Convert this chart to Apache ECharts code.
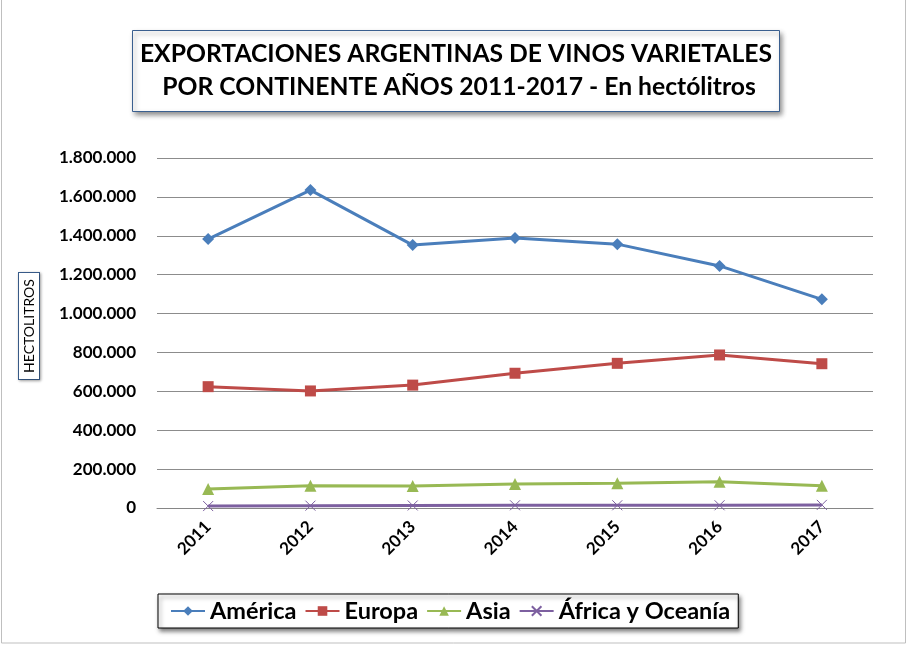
<!DOCTYPE html>
<html>
<head>
<meta charset="utf-8">
<script src="https://cdn.jsdelivr.net/npm/echarts@6/dist/echarts.min.js"></script>
<style>
html,body{margin:0;padding:0;background:#fff;}
#chart{width:908px;height:646px;}
</style>
</head>
<body>
<div id="chart"></div>
<script>
// datos (hectolitros)
var anios = ['2011', '2012', '2013', '2014', '2015', '2016', '2017'];
var america = [1383000, 1635000, 1352000, 1389000, 1357000, 1245000, 1073000];
var europa = [624000, 602000, 632000, 693000, 744000, 787000, 742000];
var asia = [98000, 115000, 113000, 123000, 127000, 135000, 115000];
var africaOceania = [10000, 12000, 13000, 14000, 14000, 14000, 16000];
var ejeMax = 1800000;
var ejeIntervalo = 200000;

function miles(v){
	return String(v).replace(/\B(?=(\d{3})+(?!\d))/g, '.');
}

var chart = echarts.init(document.getElementById('chart'));
var fuente = 'Lato, "Open Sans", sans-serif';

option = {
	backgroundColor: '#fff',
	animation: false,
	title: {
		text: 'EXPORTACIONES ARGENTINAS DE VINOS VARIETALES\n POR CONTINENTE AÑOS 2011-2017 - En hectólitros',
		left: 448,
		top: 30,
		textAlign: 'center',
		padding: [8, 8, 8, 8],
		borderColor: '#3a5f8f',
		borderWidth: 1,
		backgroundColor: '#fff',
		shadowColor: 'rgba(0,0,0,0.45)',
		shadowBlur: 5,
		shadowOffsetX: 2,
		shadowOffsetY: 3,
		textStyle: {
			fontFamily: fuente,
			fontWeight: 'bold',
			fontSize: 24.7,
			lineHeight: 33,
			color: '#000'
		}
	},
	legend: {
		bottom: 18,
		left: 158,
		itemWidth: 34,
		itemHeight: 12,
		itemGap: 8,
		padding: [5, 8, 5, 12],
		borderColor: '#000',
		borderWidth: 1,
		backgroundColor: '#fff',
		shadowColor: 'rgba(0,0,0,0.5)',
		shadowBlur: 4,
		shadowOffsetX: 2,
		shadowOffsetY: 3,
		textStyle: {
			fontFamily: fuente,
			fontWeight: 'bold',
			fontSize: 23.5,
			color: '#000'
		},
		data: ['América', 'Europa', 'Asia', 'África y Oceanía']
	},
	grid: {
		left: 157,
		right: 35,
		top: 158,
		bottom: 138
	},
	xAxis: {
		type: 'category',
		data: anios,
		boundaryGap: true,
		axisLine: {lineStyle: {color: '#868686'}},
		axisTick: {show: false},
		axisLabel: {
			rotate: 45,
			margin: 16,
			fontFamily: fuente,
			fontWeight: 'bold',
			fontSize: 17,
			color: '#000'
		}
	},
	yAxis: {
		type: 'value',
		min: 0,
		max: ejeMax,
		interval: ejeIntervalo,
		axisLine: {show: false},
		axisTick: {show: false},
		splitLine: {lineStyle: {color: '#8c8c8c', width: 1}},
		axisLabel: {
			margin: 21,
			fontFamily: fuente,
			fontWeight: 'bold',
			fontSize: 17,
			color: '#000',
			formatter: function(v){ return miles(v); }
		}
	},
	graphic: [
		{
			type: 'rect',
			shape: {x: 1.5, y: -2, width: 904, height: 645},
			style: {fill: 'none', stroke: '#bfbfbf', lineWidth: 1},
			silent: true
		},
		{
			type: 'text',
			x: 29,
			y: 326,
			rotation: Math.PI / 2,
			silent: true,
			style: {
				text: 'HECTOLITROS',
				fontFamily: fuente,
				fontSize: 14,
				fill: '#000',
				align: 'center',
				verticalAlign: 'middle',
				backgroundColor: '#fff',
				borderColor: '#3a5f8f',
				borderWidth: 1,
				padding: [3, 6, 3, 6],
				shadowColor: 'rgba(0,0,0,0.3)',
				shadowBlur: 3,
				shadowOffsetX: 1,
				shadowOffsetY: 1
			}
		}
	],
	series: [
		{
			name: 'América',
			type: 'line',
			data: america,
			symbol: 'diamond',
			symbolSize: 12,
			lineStyle: {color: '#4A7EBB', width: 3},
			itemStyle: {color: '#4A7EBB'}
		},
		{
			name: 'Europa',
			type: 'line',
			data: europa,
			symbol: 'rect',
			symbolSize: 11,
			lineStyle: {color: '#BE4B48', width: 3},
			itemStyle: {color: '#BE4B48'}
		},
		{
			name: 'Asia',
			type: 'line',
			data: asia,
			symbol: 'triangle',
			symbolSize: 12,
			lineStyle: {color: '#98B954', width: 3},
			itemStyle: {color: '#98B954'}
		},
		{
			name: 'África y Oceanía',
			type: 'line',
			data: africaOceania,
			symbol: 'path://M0,0L10,10M10,0L0,10',
			symbolSize: 10,
			lineStyle: {color: '#7D60A0', width: 3},
			itemStyle: {color: '#7D60A0', borderColor: '#7D60A0', borderWidth: 1}
		}
	]
};

chart.setOption(option);
</script>
</body>
</html>
